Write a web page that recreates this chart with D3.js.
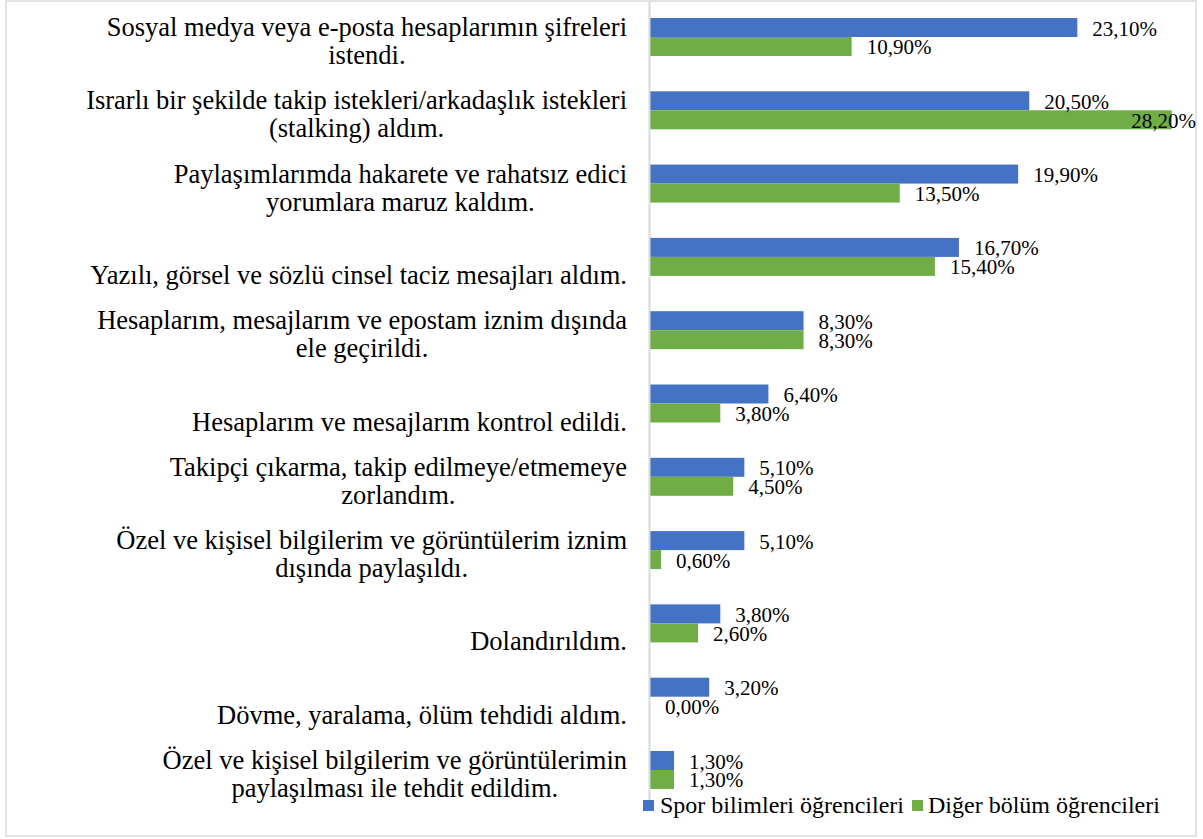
<!DOCTYPE html>
<html><head><meta charset="utf-8">
<script src="https://cdn.jsdelivr.net/npm/d3@7"></script>
<style>html,body{margin:0;padding:0;background:#fff;}svg{display:block;}</style>
</head><body>
<script>
const categories = [
  ["Sosyal medya veya e-posta hesaplarımın şifreleri", "istendi."],
  ["Israrlı bir şekilde takip istekleri/arkadaşlık istekleri", "(stalking) aldım."],
  ["Paylaşımlarımda hakarete ve rahatsız edici", "yorumlara maruz kaldım."],
  ["Yazılı, görsel ve sözlü cinsel taciz mesajları aldım."],
  ["Hesaplarım, mesajlarım ve epostam iznim dışında", "ele geçirildi."],
  ["Hesaplarım ve mesajlarım kontrol edildi."],
  ["Takipçi çıkarma, takip edilmeye/etmemeye", "zorlandım."],
  ["Özel ve kişisel bilgilerim ve görüntülerim iznim", "dışında paylaşıldı."],
  ["Dolandırıldım."],
  ["Dövme, yaralama, ölüm tehdidi aldım."],
  ["Özel ve kişisel bilgilerim ve görüntülerimin", "paylaşılması ile tehdit edildim."]
];
const sporValues = [23.1, 20.5, 19.9, 16.7, 8.3, 6.4, 5.1, 5.1, 3.8, 3.2, 1.3];
const digerValues = [10.9, 28.2, 13.5, 15.4, 8.3, 3.8, 4.5, 0.6, 2.6, 0.0, 1.3];
const seriesNames = ["Spor bilimleri öğrencileri", "Diğer bölüm öğrencileri"];
const seriesColors = ["#4472C4", "#70AD47"];

const W = 1203, H = 839;
const FONT = "'Liberation Serif', 'Times New Roman', serif";
const svg = d3.select("body").append("svg").attr("width", W).attr("height", H);

// chart border
svg.append("rect").attr("x", 6).attr("y", 1).attr("width", 1190).attr("height", 835)
  .attr("fill", "#fff").attr("stroke", "#d9d9d9").attr("stroke-width", 1.5);

const x = d3.scaleLinear().domain([0, 30]).range([650, 650 + 18.5 * 30]);
const idx = d3.range(categories.length);
const y = d3.scaleBand().domain(idx).range([0.35, 806.65]).paddingInner(0.4816).paddingOuter(0.2408);
const ySub = d3.scaleBand().domain([0, 1]).range([0, y.bandwidth()]);

const series = [sporValues, digerValues];

// bars
series.forEach((vals, s) => {
  svg.append("g").selectAll("rect").data(idx).join("rect")
    .attr("x", x(0))
    .attr("y", i => y(i) + ySub(s))
    .attr("width", i => x(vals[i]) - x(0))
    .attr("height", ySub.bandwidth())
    .attr("fill", seriesColors[s]);
});

// axis line
svg.append("line").attr("x1", 649.5).attr("x2", 649.5).attr("y1", 2).attr("y2", 807)
  .attr("stroke", "#d9d9d9").attr("stroke-width", 2);

// value labels
const fmt = v => v.toFixed(2).replace(".", ",") + "%";
series.forEach((vals, s) => {
  const g = svg.append("g");
  idx.forEach(i => {
    const t = g.append("text")
      .attr("font-family", FONT).attr("font-size", 21).attr("fill", "#000")
      .attr("y", y(i) + ySub(s) + ySub.bandwidth() / 2 + 8)
      .text(fmt(vals[i]));
    const w = t.node().getComputedTextLength();
    let tx = x(vals[i]) + 15;
    if (tx + w > 1196) tx = 1196 - w;
    t.attr("x", tx);
  });
});

// category labels: block right-aligned, lines centered within block
const labelRight = 627;
idx.forEach(i => {
  const lines = categories[i];
  const g = svg.append("g");
  const center = y(i) + y.bandwidth() / 2;
  const texts = lines.map((ln, k) => g.append("text")
    .attr("font-family", FONT).attr("font-size", 26.5).attr("fill", "#000")
    .attr("text-anchor", "middle")
    .attr("y", center + 27 - 28 * (lines.length - 1 - k))
    .text(ln));
  const maxW = d3.max(texts, t => t.node().getComputedTextLength());
  texts.forEach(t => t.attr("x", labelRight - maxW / 2));
});

// legend
const legendPos = [[643, 660], [912, 928]];
seriesNames.forEach((name, s) => {
  svg.append("rect").attr("x", legendPos[s][0]).attr("y", 800).attr("width", 11).attr("height", 11)
    .attr("fill", seriesColors[s]);
  svg.append("text").attr("x", legendPos[s][1]).attr("y", 813)
    .attr("font-family", FONT).attr("font-size", 24).attr("fill", "#000").text(name);
});
</script>
</body></html>
